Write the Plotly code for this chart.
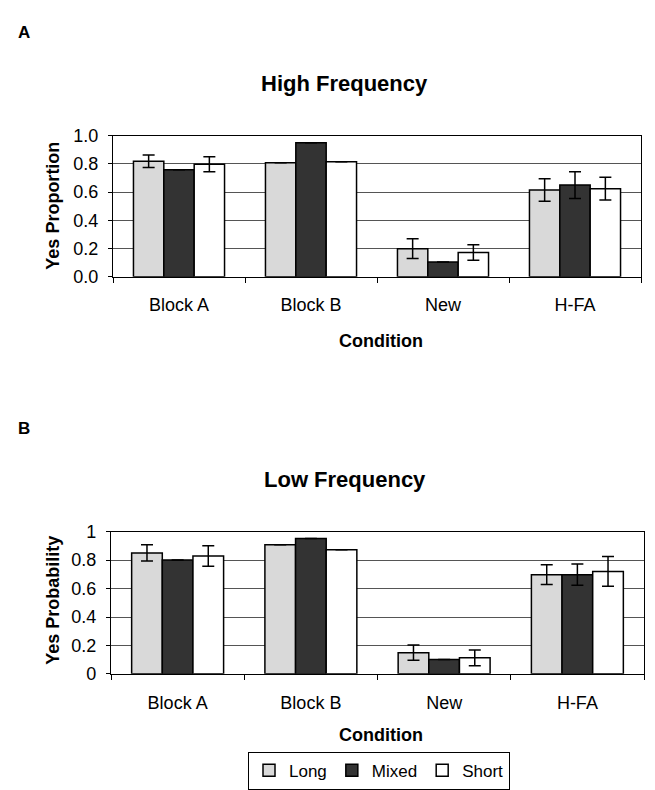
import plotly.graph_objects as go

categories = ["Block A", "Block B", "New", "H-FA"]
series_names = ["Long", "Mixed", "Short"]
series_colors = ["#d9d9d9", "#333333", "#ffffff"]

high_values = {
    "Long": [0.818, 0.808, 0.199, 0.614],
    "Mixed": [0.757, 0.949, 0.104, 0.649],
    "Short": [0.797, 0.815, 0.171, 0.624],
}
high_errors = {
    "Long": [0.045, None, 0.07, 0.08],
    "Mixed": [None, None, None, 0.094],
    "Short": [0.053, None, 0.055, 0.081],
}
low_values = {
    "Long": [0.851, 0.908, 0.149, 0.698],
    "Mixed": [0.802, 0.953, 0.101, 0.698],
    "Short": [0.829, 0.874, 0.113, 0.721],
}
low_errors = {
    "Long": [0.057, None, 0.054, 0.069],
    "Mixed": [None, None, None, 0.075],
    "Short": [0.072, None, 0.055, 0.104],
}
y_ticks = [0, 0.2, 0.4, 0.6, 0.8, 1.0]
low_tick_text = ["0", "0.2", "0.4", "0.6", "0.8", "1"]

W, H = 655, 790
FONT = "Liberation Sans, Arial, sans-serif"

def px_x(x):
    return x / W

def px_y(y):
    return 1 - y / H

fig = go.Figure()

for vals, errs, xa, ya, show in [
    (high_values, high_errors, "x", "y", True),
    (low_values, low_errors, "x2", "y2", False),
]:
    for name, color in zip(series_names, series_colors):
        fig.add_trace(go.Bar(
            x=categories, y=vals[name], name=name,
            marker=dict(color=color, line=dict(color="black", width=1.5)),
            error_y=dict(type="data", array=errs[name], visible=True,
                         color="black", thickness=1.5, width=6),
            xaxis=xa, yaxis=ya, showlegend=show,
        ))

axis_common = dict(showline=True, mirror=True, linecolor="black", linewidth=1.2)
x_common = dict(ticks="outside", ticklen=5, tickson="boundaries", tickcolor="black",
                ticklabelstandoff=12, tickfont=dict(size=18), **axis_common)
y_common = dict(range=[0, 1.0], tickvals=y_ticks, ticks="outside", ticklen=4,
                tickcolor="black", showgrid=True, gridcolor="#555555", gridwidth=1,
                ticklabelstandoff=6, tickfont=dict(size=18), **axis_common)

fig.update_layout(
    width=W, height=H,
    margin=dict(l=0, r=0, t=0, b=0),
    paper_bgcolor="white", plot_bgcolor="white",
    font=dict(family=FONT, color="black", size=17),
    barmode="group", bargap=0.31, bargroupgap=0,
    xaxis=dict(domain=[px_x(113), px_x(641)], anchor="y", **x_common),
    yaxis=dict(domain=[px_y(274), px_y(129)], anchor="x", tickformat=".1f", **y_common),
    xaxis2=dict(domain=[px_x(111), px_x(644)], anchor="y2", **x_common),
    yaxis2=dict(domain=[px_y(682), px_y(536)], anchor="x2", ticktext=low_tick_text,
                **y_common),
    legend=dict(orientation="h", x=px_x(379), xanchor="center", y=px_y(762), yanchor="top",
                bordercolor="black", borderwidth=1, bgcolor="white",
                font=dict(size=17), itemwidth=30, tracegroupgap=0,
                itemclick=False),
)

annots = [
    ("A", 24, 23, 17, 0),
    ("B", 24, 430, 17, 0),
    ("High Frequency", 344, 76, 22, 0),
    ("Low Frequency", 345, 482, 22, 0),
    ("Condition", 381, 340, 18, 0),
    ("Condition", 381, 745, 18, 0),
    ("Yes Proportion", 53, 201, 18, -90),
    ("Yes Probability", 53, 607, 18, -90),
]
for text, x, y, size, angle in annots:
    fig.add_annotation(
        text=f"<b>{text}</b>",
        x=px_x(x), y=px_y(y), xref="paper", yref="paper",
        xanchor="center", yanchor="middle", showarrow=False,
        textangle=angle, font=dict(size=size, family=FONT, color="black"),
    )

fig.write_html("out.html")
